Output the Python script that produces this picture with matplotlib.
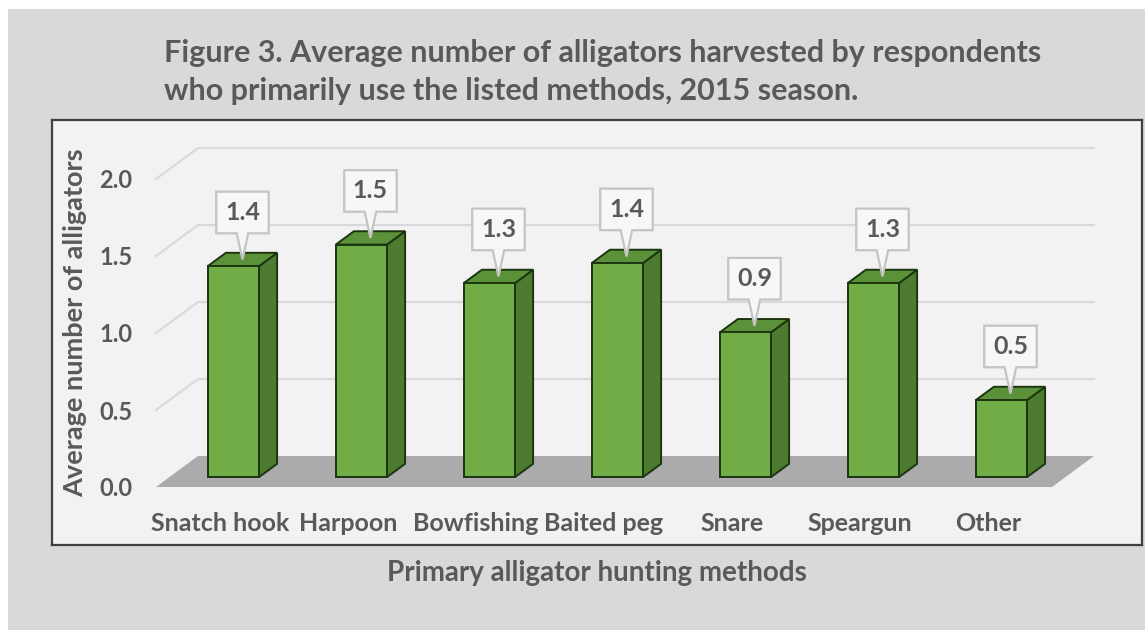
import matplotlib
matplotlib.use("Agg")
import matplotlib.pyplot as plt
from matplotlib.patches import Polygon, Rectangle

# data
methods = ["Snatch hook", "Harpoon", "Bowfishing", "Baited peg", "Snare", "Speargun", "Other"]
avg_alligators = [1.37, 1.51, 1.26, 1.39, 0.94, 1.26, 0.50]
yticks = [0.0, 0.5, 1.0, 1.5, 2.0]

title_1 = "Figure 3. Average number of alligators harvested by respondents"
title_2 = "who primarily use the listed methods, 2015 season."
xlabel = "Primary alligator hunting methods"
ylabel = "Average number of alligators"

plt.rcParams['font.family'] = ['Lato', 'DejaVu Sans']
plt.rcParams['font.weight'] = 'bold'

TXT = "#595959"
W, H = 1145, 630

# fake 3d: depth moves things right/up
DX, DY = 0.328, 0.201
F_FRONT, F_BACK = 0.32, 0.75
HALF_W = 0.2


def proj(x, v, f):
    return (x + f * DX, v + f * DY)


fig = plt.figure(figsize=(W / 100, H / 100), dpi=100)
fig.patch.set_facecolor("white")
fig.patches.append(Rectangle((8 / W, 0), 1, 1 - 9 / H, transform=fig.transFigure,
                             facecolor="#d9d9d9", edgecolor="none", zorder=-10))

left, right, top, bottom = 52, 1142, 120, 545
ax = fig.add_axes([left / W, 1 - bottom / H, (right - left) / W, (bottom - top) / H])
ax.set_facecolor("#f2f2f2")
for s in ax.spines.values():
    s.set_color("#3f3f3f")
    s.set_linewidth(1.6)

x0, x1 = -0.5, len(methods) - 0.5

# floor
ax.add_patch(Polygon([proj(x0, 0, 0), proj(x1, 0, 0), proj(x1, 0, 1), proj(x0, 0, 1)],
                     closed=True, facecolor="#ababab", edgecolor="none", zorder=1))

# back wall gridlines
for v in yticks[1:]:
    pts = [proj(x0, v, 0), proj(x0, v, 1), proj(x1, v, 1)]
    ax.plot([p[0] for p in pts], [p[1] for p in pts], color="#d9d9d9", lw=1.5, zorder=1)

# bars
edge = "#1c3510"
for i, v in enumerate(avg_alligators):
    xl, xr = i - HALF_W, i + HALF_W
    front = [proj(xl, 0, F_FRONT), proj(xr, 0, F_FRONT), proj(xr, v, F_FRONT), proj(xl, v, F_FRONT)]
    side = [proj(xr, 0, F_FRONT), proj(xr, 0, F_BACK), proj(xr, v, F_BACK), proj(xr, v, F_FRONT)]
    topf = [proj(xl, v, F_FRONT), proj(xr, v, F_FRONT), proj(xr, v, F_BACK), proj(xl, v, F_BACK)]
    ax.add_patch(Polygon(side, closed=True, facecolor="#4d7b2f", edgecolor=edge, lw=1.4, zorder=3))
    ax.add_patch(Polygon(topf, closed=True, facecolor="#5b9138", edgecolor=edge, lw=1.4, zorder=3))
    ax.add_patch(Polygon(front, closed=True, facecolor="#70ad47", edgecolor=edge, lw=1.4, zorder=4))

    # callout label
    tx, ty = proj(i, v, (F_FRONT + F_BACK) / 2)
    bw, bh, gap, pw = 0.205, 0.27, 0.17, 0.045
    by = ty + gap
    box = [(tx - bw, by), (tx - pw, by), (tx, ty), (tx + pw, by), (tx + bw, by),
           (tx + bw, by + bh), (tx - bw, by + bh)]
    ax.add_patch(Polygon(box, closed=True, facecolor="#f7f7f7", edgecolor="#c4c4c4", lw=1.6, zorder=5))
    ax.text(tx, by + bh / 2, f"{v:.1f}", ha="center", va="center", fontsize=18,
            color=TXT, fontweight="bold", zorder=6)

# category labels sit at the front edge
for i, m in enumerate(methods):
    ax.text(i, -0.234, m, ha="center", va="center", fontsize=18, color=TXT, fontweight="bold")

ax.set_xlim((left - 220) / 128, (right - 220) / 128)
ax.set_ylim((487 - bottom) / 154, (487 - top) / 154)
ax.set_xticks([])
ax.set_yticks(yticks, [f"{t:.1f}" for t in yticks])
ax.tick_params(axis="y", length=0, pad=-58, labelsize=17, labelcolor=TXT)
ax.set_ylabel(ylabel, fontsize=19.5, color=TXT, fontweight="bold", va="center")
ax.yaxis.set_label_coords((75 - left) / (right - left), (bottom - 323) / (bottom - top))

fig.text(164 / W, 1 - 62 / H, title_1, ha="left", va="baseline", fontsize=22, color=TXT, fontweight="bold")
fig.text(164 / W, 1 - 100 / H, title_2, ha="left", va="baseline", fontsize=22, color=TXT, fontweight="bold")
fig.text(597 / W, 1 - 573 / H, xlabel, ha="center", va="center", fontsize=20, color=TXT, fontweight="bold")

fig.savefig("out.png", dpi=100, facecolor=fig.get_facecolor())
